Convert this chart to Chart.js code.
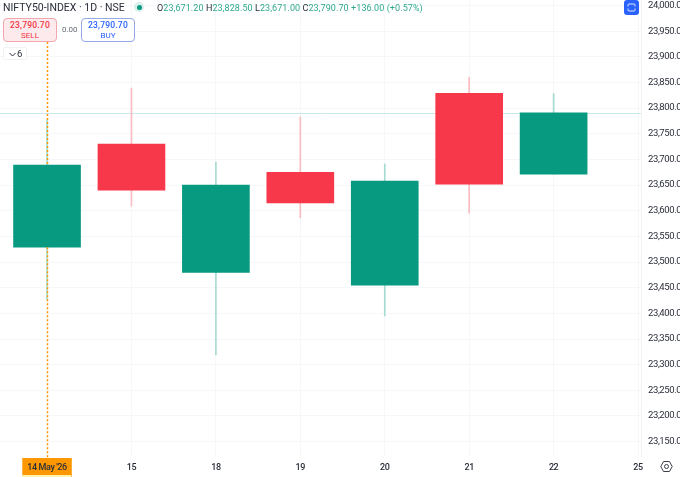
<!DOCTYPE html>
<html>
<head>
<meta charset="utf-8">
<script src="https://cdn.jsdelivr.net/npm/chart.js@4"></script>
<style>
html,body{margin:0;padding:0;background:#fff;overflow:hidden;width:680px;height:477px;font-family:Roboto,"Noto Sans",sans-serif}
#wrap{position:relative;width:680px;height:477px}
canvas{position:absolute;left:0;top:0}
.o{position:absolute;white-space:nowrap}
.box{position:absolute;box-sizing:border-box;border-radius:4px;text-align:center;top:18px;height:24px;width:54px;border:1px solid;background:#fff}
.box b{display:block;font-weight:500;font-size:8.5px;line-height:11px;margin-top:1px;letter-spacing:.2px}
.box i{display:block;font-style:normal;font-size:8px;line-height:9px}
</style>
</head>
<body>
<div id="wrap">
<canvas id="c" width="680" height="477"></canvas>
<div class="o" style="left:3px;top:0;font-size:10.5px;line-height:16px;color:#2a2e39">NIFTY50-INDEX · 1D · NSE</div>
<div class="o" style="left:134px;top:2px;width:10px;height:10px;border-radius:50%;background:#d9efec"></div>
<div class="o" style="left:137px;top:5px;width:5px;height:5px;border-radius:50%;background:#089981"></div>
<div class="o" id="ohlc" style="left:157px;top:1px;font-size:9px;line-height:14px;letter-spacing:.08px;color:#2fa88f"></div>
<div class="box" style="left:3px;border-color:#f3a6ad;background:#fdeaec;color:#f23645"><b>23,790.70</b><i>SELL</i></div>
<div class="o" style="left:62px;top:24px;font-size:8px;line-height:11px;color:#6a6d78">0.00</div>
<div class="box" style="left:81px;border-color:#93a9ea;color:#2962ff"><b>23,790.70</b><i>BUY</i></div>
<div class="o" style="left:3px;top:47px;width:24px;height:13px;box-sizing:border-box;border:1px solid #f0f1f3;border-radius:2px;background:#fff;font-size:9.5px;line-height:11px;color:#2a2e39">
<svg width="9" height="9" viewBox="0 0 9 9" style="position:absolute;left:4px;top:2px"><path d="M1.5 3 L4.5 6 L7.5 3" fill="none" stroke="#2a2e39" stroke-width="1"/></svg>
<span style="position:absolute;left:13px;top:0">6</span></div>
<svg class="o" style="left:624px;top:0" width="15" height="15" viewBox="0 0 15 15"><rect width="15" height="15" rx="3" fill="#2962ff"/><path d="M4 6.5 V5 a1 1 0 0 1 1-1 H10 a1 1 0 0 1 1 1 V6.5 M4 8.5 V10 a1 1 0 0 0 1 1 H10 a1 1 0 0 0 1-1 V8.5" fill="none" stroke="#dfe7ff" stroke-width="1"/></svg>
<svg class="o" style="left:660px;top:460px" width="13" height="13" viewBox="0 0 13 13"><path d="M3.5 1.5 H9.5 L12.2 6.5 L9.5 11.5 H3.5 L.8 6.5 Z" fill="none" stroke="#3c3f4a" stroke-width="1"/><circle cx="6.5" cy="6.5" r="2" fill="none" stroke="#3c3f4a" stroke-width="1"/></svg>
</div>
<script>
const categories = ["14 May '26","15","18","19","20","21","22","25"];
const opens  = [23529,23730,23480,23675,23455,23829,23671.2];
const highs  = [23777,23839,23695,23783,23691,23860,23828.5];
const lows   = [23426,23609,23319,23586,23395,23595,23671];
const closes = [23689,23640,23650,23615,23658,23652,23790.7];
const priceTicks = [24000,23950,23900,23850,23800,23750,23700,23650,23600,23550,23500,23450,23400,23350,23300,23250,23200,23150];
const lastPrice = 23790.7;
const legendParts = [["O","23,671.20"],["H","23,828.50"],["L","23,671.00"],["C","23,790.70"]];
const legendChange = "+136.00 (+0.57%)";

document.getElementById('ohlc').innerHTML = legendParts.map(p=>'<span style="color:#2a2e39">'+p[0]+'</span>'+p[1]).join(' ')+' '+legendChange;

const GREEN='#089981', RED='#f7374a', GREENW='#a6dbd2', REDW='#f9bcc2';
const AXIS_FONT='Roboto';
const idx = opens.map((_,i)=>i);
const isUp = i => closes[i]>=opens[i];

const overlay = {
  id:'overlay',
  beforeUpdate(ch){ ch.ctx.letterSpacing='-0.4px'; },
  beforeDraw(ch){ ch.ctx.letterSpacing='-0.4px'; },
  beforeDatasetsDraw(ch){
    const {ctx,chartArea:a,scales:{y}} = ch;
    ctx.save();
    const py=Math.round(y.getPixelForValue(lastPrice))+.5;
    ctx.strokeStyle='#c8eaea';ctx.lineWidth=1;
    ctx.beginPath();ctx.moveTo(0,py);ctx.lineTo(a.right,py);ctx.stroke();
    ctx.restore();
  },
  afterDatasetsDraw(ch){
    const {ctx,chartArea:a,scales:{x,y}} = ch;
    ctx.save();
    const px=Math.round(x.getPixelForValue(0))+.5;
    ctx.strokeStyle='#ff9800';ctx.lineWidth=1.5;ctx.setLineDash([2,2]);
    ctx.beginPath();
    ctx.moveTo(px,42);ctx.lineTo(px,y.getPixelForValue(closes[0]));
    ctx.moveTo(px,y.getPixelForValue(opens[0]));ctx.lineTo(px,a.bottom+2);
    ctx.stroke();
    ctx.restore();
  },
  afterDraw(ch){
    const {ctx,scales:{x}} = ch;
    const px=x.getPixelForValue(0);
    ctx.save();
    ctx.fillStyle='#fff3b0';
    ctx.fillRect(px-25,475,49,2);
    ctx.restore();
  }
};

new Chart(document.getElementById('c'),{
  data:{datasets:[
    {type:'bar',grouped:false,order:2,barThickness:1,
     data:idx.map(i=>({x:i,y:[lows[i],highs[i]]})),
     backgroundColor:idx.map(i=>isUp(i)?GREENW:REDW),borderWidth:0},
    {type:'bar',grouped:false,order:1,barThickness:67,
     data:idx.map(i=>({x:i,y:[opens[i],closes[i]]})),
     backgroundColor:idx.map(i=>isUp(i)?GREEN:RED),borderWidth:0}
  ]},
  plugins:[overlay],
  options:{
    responsive:false,animation:false,devicePixelRatio:1,
    layout:{padding:0},
    events:[],
    plugins:{legend:{display:false},tooltip:{enabled:false},title:{display:false}},
    scales:{
      x:{type:'linear',min:-0.557,max:7.035,offset:false,
        afterBuildTicks(s){s.ticks=categories.map((_,i)=>({value:i}));},
        afterFit(s){s.height=21;s.paddingLeft=0;s.paddingRight=0;},
        grid:{offset:false,color:'#f6f7f8',drawTicks:false,lineWidth:1},
        border:{display:false},
        ticks:{autoSkip:false,maxRotation:0,padding:6,font:{family:AXIS_FONT,size:9,weight:'500'},color:'#2a2e39',
          callback:v=>categories[v],
          showLabelBackdrop:c=>c.index===0,backdropColor:'#ff9800',backdropPadding:{top:4,bottom:4,left:5,right:5}}
      },
      y:{type:'linear',position:'right',min:23122,max:24010.7,
        afterBuildTicks(s){s.ticks=priceTicks.map(v=>({value:v}));},
        afterFit(s){s.width=39;s.paddingTop=0;s.paddingBottom=0;},
        grid:{color:'#f6f7f8',drawTicks:false,lineWidth:1},
        border:{display:true,color:'#f0f1f3'},
        ticks:{autoSkip:false,padding:7,mirror:false,align:'center',crossAlign:'near',font:{family:AXIS_FONT,size:9.5},color:'#2a2e39',
          callback:v=>v.toLocaleString('en-US',{minimumFractionDigits:2,maximumFractionDigits:2})}
      }
    }
  }
});
</script>
</body>
</html>
